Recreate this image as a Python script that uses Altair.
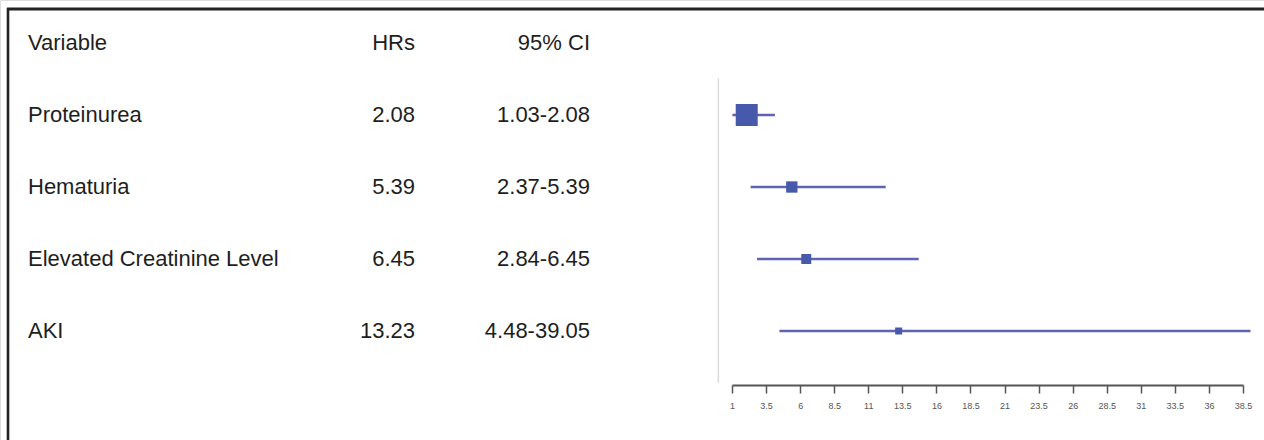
import altair as alt
import pandas as pd

# Forest plot of hazard ratios with a side table
variables = ["Proteinurea", "Hematuria", "Elevated Creatinine Level", "AKI"]
hr = [2.08, 5.39, 6.45, 13.23]
ci_lower = [1.03, 2.37, 2.84, 4.48]
ci_upper = [4.15, 12.28, 14.7, 39.05]
ci_text = ["1.03-2.08", "2.37-5.39", "2.84-6.45", "4.48-39.05"]
hr_text = ["2.08", "5.39", "6.45", "13.23"]
box_size = [484, 128, 100, 49]
header = ["Variable", "HRs", "95% CI"]
tick_values = [1, 3.5, 6, 8.5, 11, 13.5, 16, 18.5, 21, 23.5, 26, 28.5, 31, 33.5, 36, 38.5]
ref_x = 0
ref_top, ref_bottom = 0.49, 4.72

rows = pd.DataFrame({
    "row": [1, 2, 3, 4],
    "variable": variables,
    "hr": hr,
    "lo": ci_lower,
    "hi": ci_upper,
    "hr_label": hr_text,
    "ci_label": ci_text,
    "size": box_size,
})
head = pd.DataFrame({"row": [0], "c1": [header[0]], "c2": [header[1]], "c3": [header[2]]})
ref = pd.DataFrame({"x": [ref_x], "y1": [ref_top], "y2": [ref_bottom]})
one = pd.DataFrame({"k": [0]})

FONT = "Liberation Sans"
FS = 22
TXT = "#1e1e1e"

xscale = alt.Scale(domain=[1, 38.5], range=[732, 1243], nice=False, zero=False)
yscale = alt.Scale(domain=[0, 4], range=[43, 331], nice=False, zero=False)
Y = alt.Y("row:Q", scale=yscale, axis=None)

def col_text(df, field, xpos, align):
    return alt.Chart(df).mark_text(
        font=FONT, fontSize=FS, color=TXT, align=align, baseline="middle"
    ).encode(x=alt.value(xpos), y=Y, text=f"{field}:N")

table = [
    col_text(head, "c1", 28, "left"),
    col_text(head, "c2", 415, "right"),
    col_text(head, "c3", 590, "right"),
    col_text(rows, "variable", 28, "left"),
    col_text(rows, "hr_label", 415, "right"),
    col_text(rows, "ci_label", 590, "right"),
]

ref_line = alt.Chart(ref).mark_rule(color="#dcdcdc", strokeWidth=1.5).encode(
    x=alt.X("x:Q", scale=xscale),
    y=alt.Y("y1:Q", scale=yscale, axis=None),
    y2="y2:Q",
)

whiskers = alt.Chart(rows).mark_rule(color="#5152a8", strokeWidth=2.5, opacity=0.9).encode(
    x=alt.X(
        "lo:Q",
        scale=xscale,
        axis=alt.Axis(
            values=tick_values,
            labelExpr="'' + datum.value",
            title=None,
            grid=False,
            offset=-55,
            domainColor="#555555",
            domainWidth=2,
            tickColor="#555555",
            tickWidth=1.5,
            tickSize=8,
            labelFont=FONT,
            labelFontSize=9,
            labelColor="#555555",
            labelPadding=8,
            labelFlush=False,
            labelOverlap=False,
        ),
    ),
    x2="hi:Q",
    y=Y,
)

boxes = alt.Chart(rows).mark_square(color="#4659ab", opacity=1).encode(
    x=alt.X("hr:Q", scale=xscale),
    y=Y,
    size=alt.Size("size:Q", scale=None, legend=None),
)

frame_top = alt.Chart(one).mark_rule(color="#222222", strokeWidth=3).encode(
    x=alt.value(7), x2=alt.value(1264), y=alt.value(9)
)
frame_left = alt.Chart(one).mark_rule(color="#222222", strokeWidth=2.6).encode(
    x=alt.value(8), y=alt.value(8), y2=alt.value(440)
)

chart = alt.layer(
    frame_top, frame_left, *table, ref_line, whiskers, boxes
).properties(
    width=1264, height=440, padding=0, autosize=alt.AutoSizeParams(type="none")
).configure_view(strokeWidth=0, stroke="transparent").configure(background="white")

chart.save("out.html", embed_options={"renderer": "svg", "actions": False})
